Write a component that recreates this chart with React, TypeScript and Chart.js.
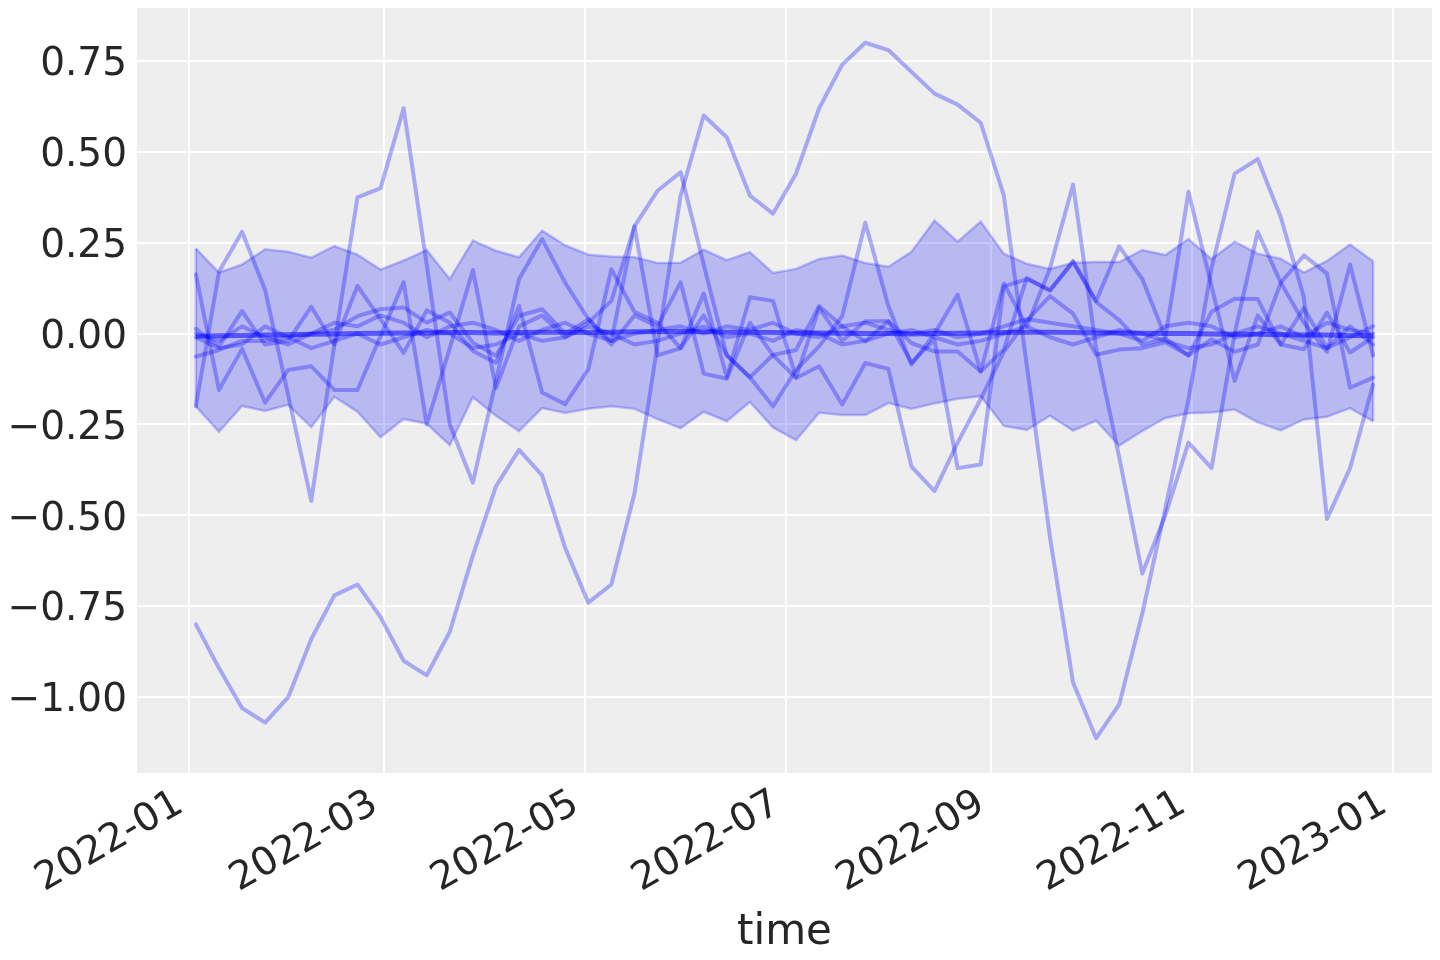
import { useEffect, useRef } from "react";
import { Chart, registerables } from "chart.js";

Chart.register(...registerables);

// weekly observation dates
const DATES = [
  "2022-01-03", "2022-01-10", "2022-01-17", "2022-01-24", "2022-01-31",
  "2022-02-07", "2022-02-14", "2022-02-21", "2022-02-28",
  "2022-03-07", "2022-03-14", "2022-03-21", "2022-03-28",
  "2022-04-04", "2022-04-11", "2022-04-18", "2022-04-25",
  "2022-05-02", "2022-05-09", "2022-05-16", "2022-05-23", "2022-05-30",
  "2022-06-06", "2022-06-13", "2022-06-20", "2022-06-27",
  "2022-07-04", "2022-07-11", "2022-07-18", "2022-07-25",
  "2022-08-01", "2022-08-08", "2022-08-15", "2022-08-22", "2022-08-29",
  "2022-09-05", "2022-09-12", "2022-09-19", "2022-09-26",
  "2022-10-03", "2022-10-10", "2022-10-17", "2022-10-24", "2022-10-31",
  "2022-11-07", "2022-11-14", "2022-11-21", "2022-11-28",
  "2022-12-05", "2022-12-12", "2022-12-19", "2022-12-26",
];

const HDI_UPPER = [
  0.234, 0.168, 0.19, 0.232, 0.225, 0.209, 0.241, 0.217, 0.176, 0.201,
  0.23, 0.15, 0.256, 0.228, 0.21, 0.283, 0.243, 0.217, 0.212, 0.21,
  0.194, 0.195, 0.231, 0.202, 0.224, 0.167, 0.178, 0.205, 0.215, 0.194,
  0.184, 0.225, 0.311, 0.253, 0.308, 0.22, 0.192, 0.178, 0.195, 0.197,
  0.197, 0.23, 0.216, 0.26, 0.205, 0.253, 0.22, 0.206, 0.168, 0.2,
  0.245, 0.199,
];

const HDI_LOWER = [
  -0.2, -0.27, -0.199, -0.213, -0.196, -0.257, -0.174, -0.215, -0.285, -0.235,
  -0.248, -0.307, -0.175, -0.226, -0.268, -0.205, -0.218, -0.207, -0.2, -0.207,
  -0.235, -0.26, -0.215, -0.241, -0.188, -0.258, -0.293, -0.218, -0.224, -0.224,
  -0.191, -0.207, -0.192, -0.179, -0.172, -0.254, -0.265, -0.226, -0.267, -0.24,
  -0.308, -0.268, -0.232, -0.219, -0.217, -0.209, -0.244, -0.266, -0.236, -0.229,
  -0.205, -0.241,
];

const MEAN = [
  -0.007, -0.006, -0.005, -0.004, -0.003, -0.002, -0.001, 0.0, 0.001, 0.002,
  0.002, 0.003, 0.003, 0.002, 0.003, 0.004, 0.004, 0.003, 0.004, 0.005,
  0.005, 0.006, 0.005, 0.004, 0.004, 0.003, 0.002, 0.002, 0.001, 0.0,
  0.0, -0.001, 0.0, 0.001, 0.002, 0.003, 0.004, 0.004, 0.003, 0.002,
  0.002, 0.001, 0.0, 0.0, -0.001, -0.002, -0.002, -0.003, -0.004, -0.004,
  -0.005, -0.006,
];

const SAMPLE_1 = [
  -0.8, -0.92, -1.03, -1.07, -1.0, -0.84, -0.72, -0.69, -0.78, -0.9,
  -0.94, -0.82, -0.61, -0.42, -0.32, -0.39, -0.59, -0.74, -0.69, -0.44,
  -0.03, 0.38, 0.6, 0.54, 0.38, 0.33, 0.44, 0.62, 0.74, 0.8,
  0.78, 0.72, 0.66, 0.63, 0.58, 0.38, -0.09, -0.56, -0.96, -1.113,
  -1.02, -0.77, -0.48, -0.18, 0.18, 0.44, 0.48, 0.32, 0.1, -0.51,
  -0.37, -0.14,
];

const SAMPLE_2 = [
  -0.2, 0.17, 0.28, 0.12, -0.17, -0.46, -0.03, 0.375, 0.4, 0.62,
  0.19, -0.25, -0.41, -0.13, 0.15, 0.26, 0.14, 0.04, -0.02, 0.295,
  -0.06, -0.04, 0.11, -0.12, 0.1, 0.09, -0.12, 0.07, -0.02, 0.034,
  0.034, -0.08, -0.017, -0.37, -0.36, 0.13, 0.15, 0.12, 0.2, 0.09,
  0.24, 0.15, -0.01, 0.39, 0.13, -0.13, 0.05, -0.03, 0.07, -0.04,
  0.02, -0.03,
];

const SAMPLE_3 = [
  0.163, -0.155, -0.042, -0.19, -0.1, -0.09, -0.155, -0.155, -0.007, 0.142,
  -0.25, -0.04, 0.175, -0.15, 0.02, 0.05, -0.01, 0.03, 0.09, 0.295,
  0.393, 0.444, 0.19, -0.06, -0.12, -0.2, -0.1, -0.035, 0.048, 0.305,
  0.076, -0.085, 0.0, 0.107, -0.104, 0.138, 0.02, 0.18, 0.41, -0.04,
  -0.34, -0.66, -0.5, -0.3, -0.37, 0.0, 0.28, 0.14, 0.03, -0.05,
  0.19, -0.06,
];

const SAMPLE_4 = [
  -0.063, -0.045, -0.02, -0.02, -0.01, 0.0, 0.011, 0.048, 0.067, 0.072,
  0.03, 0.058, -0.025, -0.061, 0.049, 0.067, 0.0, 0.039, -0.03, 0.05,
  0.02, 0.141, -0.11, -0.124, 0.03, -0.059, -0.122, -0.09, -0.195, -0.081,
  -0.097, -0.366, -0.433, -0.3, -0.18, -0.05, 0.036, 0.103, 0.055, -0.058,
  -0.044, -0.04, -0.024, -0.06, 0.06, 0.096, 0.095, -0.03, -0.043, 0.058,
  -0.052, -0.01,
];

const SAMPLE_5 = [
  0.013, -0.035, 0.062, -0.03, -0.02, 0.074, -0.03, 0.131, 0.04, -0.053,
  0.064, 0.03, -0.048, -0.08, 0.076, -0.162, -0.194, -0.098, 0.177, 0.06,
  0.03, -0.04, 0.05, -0.059, -0.12, -0.059, -0.045, 0.076, 0.02, -0.021,
  0.034, -0.026, -0.049, -0.049, -0.104, -0.044, 0.153, 0.118, 0.197, 0.087,
  0.037, -0.03, -0.014, -0.06, -0.016, -0.05, -0.03, 0.14, 0.215, 0.165,
  -0.149, -0.121,
];

const SAMPLE_6 = [
  0.0, -0.02, 0.02, -0.01, -0.03, 0.0, 0.03, 0.02, 0.05, 0.03,
  -0.01, 0.02, 0.03, 0.01, -0.02, 0.01, 0.03, 0.0, -0.02, 0.0,
  0.01, 0.02, 0.0, 0.02, 0.01, 0.03, 0.0, -0.01, 0.02, 0.03,
  0.01, 0.0, 0.01, -0.01, 0.0, 0.02, 0.04, 0.03, 0.02, 0.01,
  0.0, -0.02, 0.02, 0.03, 0.02, -0.01, 0.0, 0.02, -0.01, 0.03,
  0.01, 0.0,
];

const SAMPLE_7 = [
  -0.01, -0.04, -0.03, 0.02, -0.01, -0.04, -0.02, 0.0, -0.03, -0.01,
  0.01, 0.0, -0.04, -0.03, 0.0, -0.02, -0.01, 0.02, 0.0, -0.03,
  -0.02, 0.0, 0.02, -0.01, 0.0, -0.02, 0.01, 0.0, -0.03, -0.02,
  0.0, 0.01, -0.01, -0.03, -0.02, 0.0, 0.02, -0.01, -0.03, -0.01,
  0.01, 0.0, -0.02, -0.04, -0.03, 0.0, 0.02, 0.0, -0.02, -0.04,
  -0.01, 0.02,
];

const SAMPLES = [SAMPLE_1, SAMPLE_2, SAMPLE_3, SAMPLE_4, SAMPLE_5, SAMPLE_6, SAMPLE_7];

const X_TICK_DATES = ["2022-01-01", "2022-03-01", "2022-05-01", "2022-07-01", "2022-09-01", "2022-11-01", "2023-01-01"];
const X_TICK_LABELS = ["2022-01", "2022-03", "2022-05", "2022-07", "2022-09", "2022-11", "2023-01"];
const Y_TICKS = [-1.0, -0.75, -0.5, -0.25, 0.0, 0.25, 0.5, 0.75];
const X_TITLE = "time";

const REF = Date.UTC(2022, 0, 1);
const toDay = (s: string) => {
  const [y, m, d] = s.split("-").map(Number);
  return (Date.UTC(y, m - 1, d) - REF) / 86400000;
};

const FONT = "'DejaVu Sans', 'Liberation Sans', sans-serif";
const TEXT = "#262626";
const LINE = "rgba(0,0,255,0.3)";
const BAND = "rgba(0,0,255,0.22)";

export default function App() {
  const ref = useRef<HTMLCanvasElement | null>(null);

  useEffect(() => {
    document.body.style.margin = "0";
    const canvas = ref.current;
    if (!canvas) return;

    const xs = DATES.map(toDay);
    const pts = (vals: number[]) => vals.map((v, i) => ({ x: xs[i], y: v }));

    // matplotlib-like 5% data margins
    const xMinD = Math.min(...xs);
    const xMaxD = Math.max(...xs);
    const xPad = (xMaxD - xMinD) * 0.05;
    const allY = [...HDI_UPPER, ...HDI_LOWER, ...MEAN, ...SAMPLES.flat()];
    const yMinD = Math.min(...allY);
    const yMaxD = Math.max(...allY);
    const yPad = (yMaxD - yMinD) * 0.05;

    const tickDays = X_TICK_DATES.map(toDay);

    const bgPlugin = {
      id: "plotBg",
      beforeDraw(chart: any) {
        const { ctx, chartArea } = chart;
        ctx.save();
        ctx.fillStyle = "#eeeeee";
        ctx.fillRect(chartArea.left, chartArea.top, chartArea.right - chartArea.left, chartArea.bottom - chartArea.top);
        ctx.restore();
      },
    };

    const bandEdges = {
      id: "bandEdges",
      afterDatasetsDraw(chart: any) {
        const { ctx, scales } = chart;
        const x = scales.x;
        const y = scales.y;
        const ends = [0, xs.length - 1];
        ctx.save();
        ctx.strokeStyle = BAND;
        ctx.lineWidth = 2.5;
        ends.forEach((i) => {
          const px = x.getPixelForValue(xs[i]);
          ctx.beginPath();
          ctx.moveTo(px, y.getPixelForValue(HDI_UPPER[i]));
          ctx.lineTo(px, y.getPixelForValue(HDI_LOWER[i]));
          ctx.stroke();
        });
        ctx.restore();
      },
    };

    const sampleSets = SAMPLES.map((s, k) => ({
      label: `sample ${k + 1}`,
      data: pts(s),
      borderColor: LINE,
      borderWidth: 4,
      pointRadius: 0,
      fill: false,
      tension: 0,
      borderJoinStyle: "round" as const,
      borderCapStyle: "round" as const,
      order: 1,
    }));

    const zeroPad = (s: any) => {
      s.paddingTop = 0;
      s.paddingBottom = 0;
      s.paddingLeft = 0;
      s.paddingRight = 0;
    };

    const chart = new Chart(canvas, {
      type: "line",
      data: {
        datasets: [
          {
            label: "hdi lower",
            data: pts(HDI_LOWER),
            borderColor: BAND,
            borderWidth: 2.5,
            pointRadius: 0,
            fill: false,
            tension: 0,
            order: 2,
          },
          {
            label: "hdi upper",
            data: pts(HDI_UPPER),
            borderColor: BAND,
            backgroundColor: BAND,
            borderWidth: 2.5,
            pointRadius: 0,
            fill: { target: 0 },
            tension: 0,
            order: 2,
          },
          ...sampleSets,
          {
            label: "mean",
            data: pts(MEAN),
            borderColor: "rgba(0,0,255,0.55)",
            borderWidth: 5,
            pointRadius: 0,
            fill: false,
            tension: 0,
            order: 0,
          },
        ],
      },
      options: {
        animation: false,
        responsive: true,
        maintainAspectRatio: false,
        devicePixelRatio: 1,
        layout: { padding: { top: 8, right: 8, left: 0, bottom: 0 } },
        plugins: {
          legend: { display: false },
          tooltip: { enabled: false },
        },
        scales: {
          x: {
            type: "linear",
            min: xMinD - xPad,
            max: xMaxD + xPad,
            afterBuildTicks: (s: any) => {
              s.ticks = tickDays.map((v) => ({ value: v }));
            },
            afterFit: (s: any) => {
              s.height = 187;
              zeroPad(s);
            },
            ticks: {
              autoSkip: false,
              minRotation: 30,
              maxRotation: 30,
              padding: 8,
              labelOffset: -9,
              color: TEXT,
              font: { family: FONT, size: 39 },
              callback: (v: any) => {
                const idx = tickDays.indexOf(Number(v));
                return idx >= 0 ? X_TICK_LABELS[idx] : "";
              },
            },
            grid: { color: "#ffffff", lineWidth: 2, drawTicks: false },
            border: { display: false },
            title: {
              display: true,
              text: X_TITLE,
              color: TEXT,
              font: { family: FONT, size: 42 },
              padding: { top: 0, bottom: 2 },
            },
          },
          y: {
            type: "linear",
            min: yMinD - yPad,
            max: yMaxD + yPad,
            afterBuildTicks: (s: any) => {
              s.ticks = Y_TICKS.map((v) => ({ value: v }));
            },
            afterFit: (s: any) => {
              s.width = 137;
              zeroPad(s);
            },
            ticks: {
              padding: 10,
              labelOffset: 4,
              color: TEXT,
              font: { family: FONT, size: 39 },
              callback: (v: any) => {
                const n = Number(v);
                const t = Math.abs(n).toFixed(2);
                return n < 0 ? "\u2212" + t : t;
              },
            },
            grid: { color: "#ffffff", lineWidth: 2, drawTicks: false },
            border: { display: false },
          },
        },
      },
      plugins: [bgPlugin, bandEdges],
    } as any);

    return () => chart.destroy();
  }, []);

  return (
    <div style={{ position: "absolute", left: 0, top: 0, width: 1440, height: 960, background: "#ffffff" }}>
      <canvas ref={ref} />
    </div>
  );
}
